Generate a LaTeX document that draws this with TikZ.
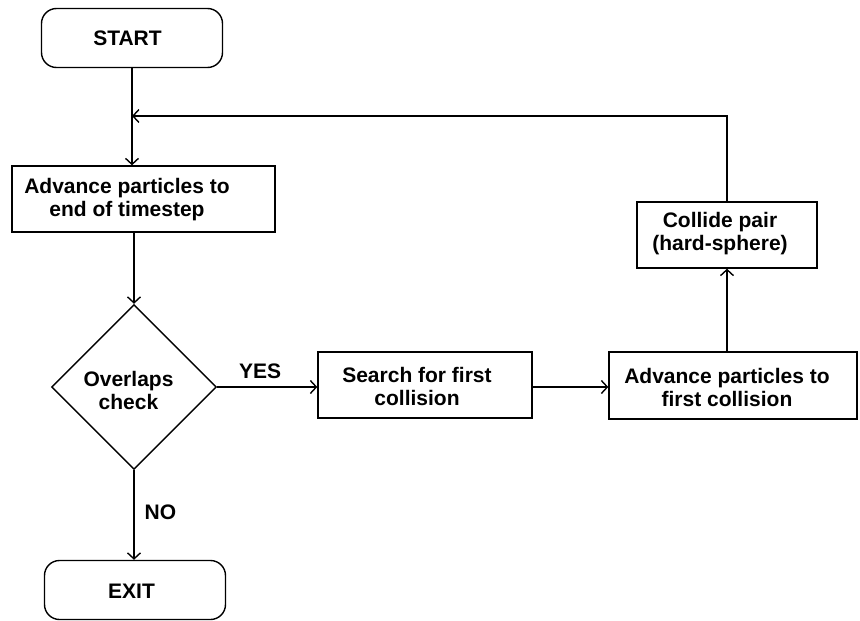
\documentclass[tikz,border=0pt]{standalone}
\usepackage{fontspec}
\setmainfont{Liberation Sans}
\usetikzlibrary{arrows.meta,shapes.geometric}
\begin{document}
\begin{tikzpicture}[x=1pt,y=-1pt,
  line width=1.4pt,
  lbl/.style={font=\fontsize{21}{23}\selectfont\bfseries, align=center, inner sep=0pt},
  boxnode/.style={draw, rectangle, inner sep=0pt},
  term/.style={draw, rectangle, rounded corners=15pt, inner sep=0pt, minimum width=181pt, minimum height=59pt},
  arr/.style={-{Straight Barb[length=6pt,width=13pt]}}
]
\useasboundingbox (0,0) rectangle (860,621);
\fill[white] (0,0) rectangle (860,621);

% terminals
\node[term] (start) at (132,38) {};
\node[lbl] (starttxt) at (127.5,38) {START};
\node[term] (exit) at (135,590) {};
\node[lbl] (exittxt) at (131.5,591) {EXIT};

% process boxes
\node[boxnode, minimum width=263pt, minimum height=66pt] (adv1) at (143.5,199) {};
\node[lbl] (adv1txt) at (127,200) {Advance particles to\\end of timestep};

\node[boxnode, minimum width=214pt, minimum height=66pt] (search) at (425,385) {};
\node[lbl] (searchtxt) at (417,386.5) {Search for first\\collision};

\node[boxnode, minimum width=248pt, minimum height=67pt] (adv2) at (733,385.5) {};
\node[lbl] (adv2txt) at (727,387.5) {Advance particles to\\first collision};

\node[boxnode, minimum width=180pt, minimum height=66pt] (collide) at (727,235) {};
\node[lbl] (collidetxt) at (720,234) {Collide pair\\(hard-sphere)};

% decision
\node[draw, diamond, inner sep=0pt, minimum width=165pt, minimum height=165pt, aspect=1] (dia) at (134,387) {};
\node[lbl] (diatxt) at (128.5,390) {Overlaps\\check};

% loop corner
\coordinate (loop) at (727,116);

% connectors
\draw[arr] (start.south) -- (adv1.north -| start.south);
\draw[arr] (adv1.south -| dia.north) -- (dia.north);
\draw[arr] (dia.east) -- (dia.east -| search.west)
  node[lbl, pos=0.43, above=8pt] (yes) {YES};
\draw[arr] (search.east |- dia.east) -- (dia.east -| adv2.west);
\draw[arr] (adv2.north -| collide.south) -- (collide.south);
\draw[arr] (collide.north) -- (loop) -- (loop -| start.south);
\draw[arr] (dia.south) -- (dia.south |- exit.north)
  node[lbl, pos=0.47, right=10pt] (no) {NO};
\end{tikzpicture}
\end{document}
